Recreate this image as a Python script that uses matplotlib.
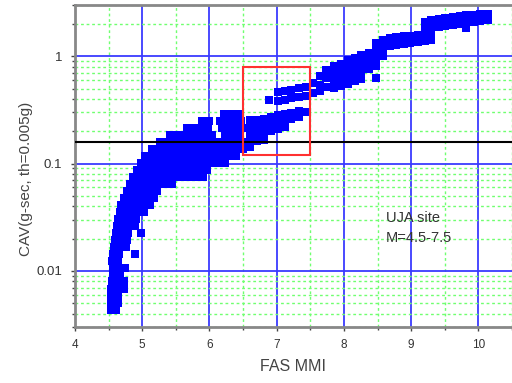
import matplotlib
matplotlib.use("Agg")
import matplotlib.pyplot as plt
from matplotlib.patches import Rectangle
from matplotlib.ticker import LogLocator, FixedLocator, NullFormatter

plt.rcParams['font.family'] = ['Liberation Sans', 'DejaVu Sans']

# ---- data (FAS MMI, CAV in g-sec) ----
tail_mmi = [4.53, 4.61, 4.53, 4.64, 4.53, 4.64, 4.53, 4.64, 4.73, 4.55, 4.65, 4.73,
            4.56, 4.67, 4.56, 4.67, 4.74, 4.55, 4.64, 4.56, 4.65, 4.89,
            4.58, 4.67, 4.76, 4.59, 4.68, 4.77, 4.61, 4.70, 4.79, 4.98,
            4.62, 4.71, 4.80, 4.89, 4.64, 4.73, 4.82, 4.91,
            4.67, 4.76, 4.85, 4.94, 5.03, 4.68, 4.77, 4.86, 4.95, 5.04, 5.11,
            4.73, 4.82, 4.91, 5.00, 5.08, 5.17, 4.77, 4.86, 4.95, 5.04, 5.13, 5.22,
            4.82, 4.91, 5.00, 5.08, 5.17, 5.26, 5.35, 5.44]
tail_cav = [0.0043, 0.0043, 0.0050, 0.0050, 0.0058, 0.0058, 0.0068, 0.0068, 0.0068,
            0.0080, 0.0080, 0.0080, 0.0092, 0.0092, 0.0107, 0.0107, 0.0107,
            0.0124, 0.0124, 0.0145, 0.0145, 0.0145,
            0.0167, 0.0167, 0.0167, 0.0194, 0.0194, 0.0194,
            0.0226, 0.0226, 0.0226, 0.0226,
            0.0262, 0.0262, 0.0262, 0.0262, 0.0305, 0.0305, 0.0305, 0.0305,
            0.0354, 0.0354, 0.0354, 0.0354, 0.0354,
            0.0411, 0.0411, 0.0411, 0.0411, 0.0411, 0.0411,
            0.0477, 0.0477, 0.0477, 0.0477, 0.0477, 0.0477,
            0.0554, 0.0554, 0.0554, 0.0554, 0.0554, 0.0554,
            0.0644, 0.0644, 0.0644, 0.0644, 0.0644, 0.0644, 0.0644, 0.0644]

mid_mmi = [4.86, 4.97, 5.07, 5.17, 5.28, 5.38, 5.49, 5.59, 5.69, 5.80, 5.90,
           4.92, 5.03, 5.13, 5.23, 5.34, 5.44, 5.55, 5.65, 5.75, 5.86, 5.96,
           4.98, 5.08, 5.19, 5.29, 5.40, 5.50, 5.60, 5.71, 5.81, 5.92, 6.02, 6.12, 6.23,
           5.04, 5.14, 5.25, 5.35, 5.46, 5.56, 5.66, 5.77, 5.87, 5.98, 6.08, 6.18, 6.29, 6.39,
           5.14, 5.25, 5.35, 5.46, 5.56, 5.66, 5.77, 5.87, 5.98, 6.08, 6.18, 6.29, 6.39, 6.50,
           5.26, 5.37, 5.47, 5.58, 5.68, 5.78, 5.89, 5.99, 6.10, 6.20, 6.30, 6.41, 6.50,
           5.41, 5.52, 5.62, 5.72, 5.83, 5.93, 6.04, 6.23, 6.33, 6.44,
           5.66, 5.77, 5.87, 5.98, 6.18, 6.29, 6.39, 6.50,
           5.89, 5.99, 6.15, 6.26, 6.36, 6.47,
           6.21, 6.32, 6.42]
mid_cav = [0.0748] * 11 + [0.0870] * 11 + [0.101] * 13 + [0.117] * 14 + \
          [0.137] * 14 + [0.159] * 13 + [0.184] * 10 + [0.214] * 8 + \
          [0.249] * 6 + [0.289] * 3

lower_mmi = [6.60, 6.60, 6.60, 6.60, 6.60, 6.70, 6.70, 6.70, 6.70,
             6.81, 6.81, 6.81, 6.81, 6.91, 6.91, 6.91, 7.02, 7.02, 7.02,
             7.12, 7.12, 7.12, 7.22, 7.22, 7.33, 7.33, 7.42]
lower_cav = [0.254, 0.218, 0.188, 0.163, 0.142, 0.254, 0.218, 0.188, 0.163,
             0.259, 0.222, 0.192, 0.166, 0.271, 0.233, 0.200, 0.283, 0.243, 0.209,
             0.289, 0.249, 0.218, 0.295, 0.259, 0.308, 0.271, 0.302]

upper_mmi = [6.88, 7.02, 7.02, 7.12, 7.12, 7.22, 7.22, 7.33, 7.33, 7.43, 7.43,
             7.54, 7.54, 7.64, 7.64, 7.64, 7.74, 7.74, 7.74,
             7.85, 7.85, 7.85, 7.85, 7.95, 7.95, 7.95, 7.95,
             8.06, 8.06, 8.06, 8.06, 8.16, 8.16, 8.16, 8.16,
             8.26, 8.26, 8.26, 8.26, 8.37, 8.37, 8.37,
             8.47, 8.47, 8.47, 8.47, 8.47, 8.58, 8.58, 8.58,
             8.68, 8.68, 8.78, 8.78, 8.89, 8.89, 8.99, 8.99, 9.10, 9.10,
             9.20, 9.20, 9.20, 9.20, 9.30, 9.30, 9.30, 9.30,
             9.41, 9.41, 9.51, 9.51, 9.62, 9.62, 9.72, 9.72,
             9.82, 9.82, 9.82, 9.93, 9.93, 10.03, 10.03, 10.14, 10.14]
upper_cav = [0.390, 0.463, 0.381, 0.473, 0.390, 0.483, 0.407, 0.504, 0.415, 0.515, 0.424,
             0.561, 0.453, 0.652, 0.537, 0.473, 0.741, 0.624, 0.515,
             0.807, 0.680, 0.573, 0.504, 0.843, 0.710, 0.598, 0.526,
             0.918, 0.773, 0.652, 0.549, 0.958, 0.807, 0.680, 0.586,
             1.02, 0.861, 0.725, 0.611, 1.07, 0.899, 0.757,
             1.32, 1.11, 0.938, 0.807, 0.624, 1.41, 1.19, 1.00,
             1.47, 1.24, 1.50, 1.27, 1.53, 1.29, 1.53, 1.32, 1.57, 1.35,
             2.07, 1.78, 1.57, 1.38, 2.16, 1.82, 1.60, 1.41,
             2.21, 1.86, 2.26, 1.90, 2.30, 1.94, 2.36, 1.99,
             2.41, 2.03, 1.82, 2.41, 2.07, 2.46, 2.12, 2.46, 2.16]

x_ticks = [4, 5, 6, 7, 8, 9, 10]
y_ticks = [0.01, 0.1, 1]
y_tick_labels = ['0.01', '0.1', '1']
threshold_cav = 0.16
box_mmi = (6.5, 7.5)
box_cav = (0.12, 0.8)
note_lines = ['UJA site', 'M=4.5-7.5']

fig = plt.figure(figsize=(5.12, 3.83), dpi=100)
ax = fig.add_axes([75 / 512, 1 - 327 / 383, 437 / 512, 322 / 383])
ax.set_yscale('log')
ax.set_xlim(4, 10.5)
ax.set_ylim(0.003, 3)

ax.xaxis.set_major_locator(FixedLocator(x_ticks))
ax.xaxis.set_minor_locator(FixedLocator([4.5, 5.5, 6.5, 7.5, 8.5, 9.5, 10.5]))
ax.yaxis.set_major_locator(FixedLocator(y_ticks))
ax.set_yticklabels(y_tick_labels)
ax.yaxis.set_minor_locator(LogLocator(base=10, subs=range(2, 10)))
ax.yaxis.set_minor_formatter(NullFormatter())

ax.grid(True, which='minor', color='#70ff70', linestyle=(0, (2, 2)), linewidth=1.0, zorder=0)
ax.grid(True, which='major', color='#3a3aff', linestyle='-', linewidth=1.3, zorder=0)
ax.set_axisbelow(True)

for seg_x, seg_y in [(tail_mmi, tail_cav), (mid_mmi, mid_cav),
                     (lower_mmi, lower_cav), (upper_mmi, upper_cav)]:
    ax.scatter(seg_x, seg_y, marker='s', s=36, color='#0000ff', linewidths=0, zorder=3)

ax.axhline(threshold_cav, color='black', linewidth=1.5, zorder=4)
ax.add_patch(Rectangle((box_mmi[0], box_cav[0]), box_mmi[1] - box_mmi[0],
                       box_cav[1] - box_cav[0], fill=False, edgecolor='#ff3030',
                       linewidth=1.5, zorder=5))

ax.text(8.62, 0.0311, note_lines[0], fontsize=10.5, color='#333333', va='center', ha='left')
ax.text(8.62, 0.0203, note_lines[1], fontsize=10.5, color='#333333', va='center', ha='left')

for side in ['left', 'bottom', 'top']:
    ax.spines[side].set_color('#888888')
    ax.spines[side].set_linewidth(2)
ax.spines['right'].set_visible(False)

ax.tick_params(which='major', length=3, width=1, color='#444444',
               labelcolor='#333333', pad=6)
ax.tick_params(axis='y', which='major', labelsize=9.5)
ax.tick_params(axis='x', which='major', labelsize=8.5)
ax.tick_params(which='minor', length=2, width=1, color='#444444')

ax.set_xlabel('FAS MMI', fontsize=11.5, color='#444444')
ax.set_ylabel('CAV(g-sec, th=0.005g)', fontsize=11, color='#444444')
ax.xaxis.set_label_coords(0.5, -0.10)
ax.yaxis.set_label_coords(-0.096, 0.46)

fig.savefig('out.png', dpi=100)
